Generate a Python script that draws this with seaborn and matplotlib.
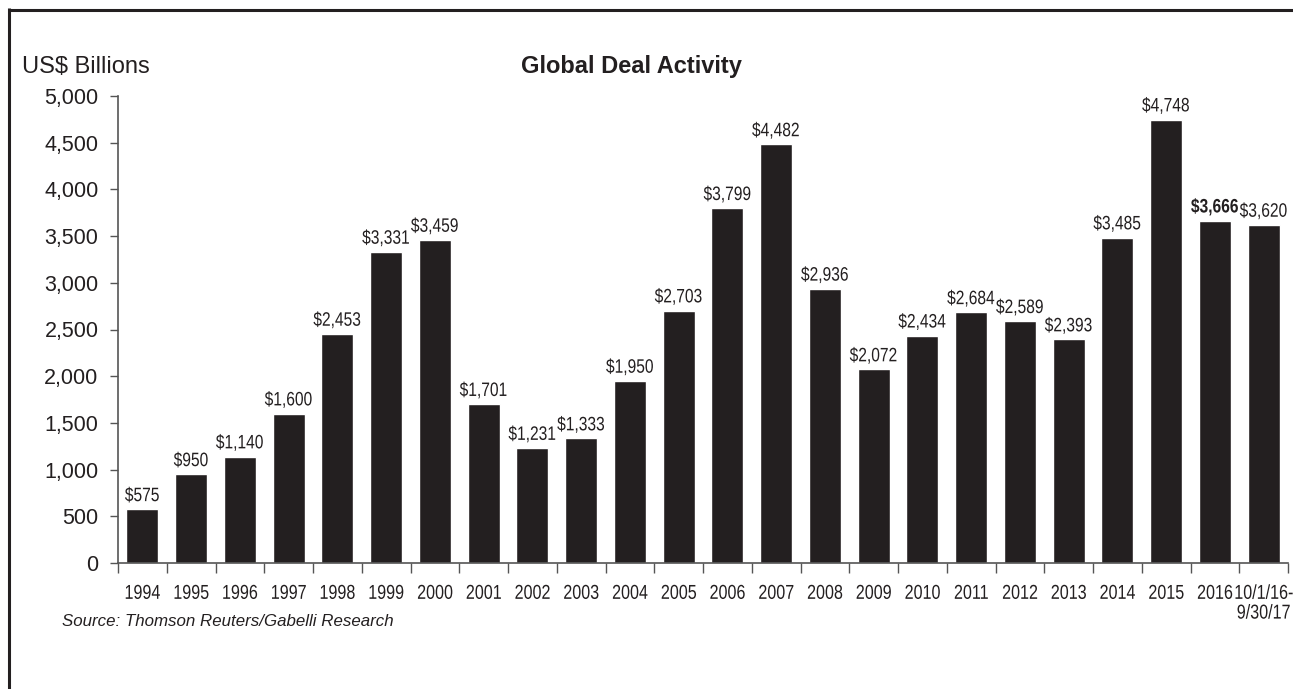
import numpy as np
import pandas as pd
import matplotlib
matplotlib.use('Agg')
import matplotlib.pyplot as plt
import matplotlib.patheffects as pe
from matplotlib.lines import Line2D
from matplotlib.transforms import Affine2D
import seaborn as sb

# Data
periods = ['1994', '1995', '1996', '1997', '1998', '1999', '2000', '2001', '2002', '2003',
           '2004', '2005', '2006', '2007', '2008', '2009', '2010', '2011', '2012', '2013',
           '2014', '2015', '2016', '10/1/16-\n9/30/17']
deal_value = [575, 950, 1140, 1600, 2453, 3331, 3459, 1701, 1231, 1333,
              1950, 2703, 3799, 4482, 2936, 2072, 2434, 2684, 2589, 2393,
              3485, 4748, 3666, 3620]
y_ticks = [0, 500, 1000, 1500, 2000, 2500, 3000, 3500, 4000, 4500, 5000]

INK = '#231f20'


# squeezes text horizontally around each line's centre (Arial Narrow look)
class Squeeze(pe.AbstractPathEffect):
    def __init__(self, sx=0.8):
        super().__init__()
        self.sx = sx

    def draw_path(self, renderer, gc, tpath, affine, rgbFace=None):
        ext = tpath.get_extents()
        cx = (ext.x0 + ext.x1) / 2
        t = Affine2D().translate(-cx, 0).scale(self.sx, 1).translate(cx, 0) + affine
        renderer.draw_path(gc, tpath, t, rgbFace)


sb.set_style('white')
plt.rcParams['font.family'] = ['Liberation Sans', 'DejaVu Sans']
narrow = [Squeeze(0.8)]

df = pd.DataFrame({'period': periods, 'value': deal_value})

fig = plt.figure(figsize=(12.93, 6.89), dpi=100)
ax = fig.add_axes([118 / 1293, 1 - 563 / 689, 1170 / 1293, 467 / 689])

sb.barplot(data=df, x='period', y='value', color=INK, saturation=1,
           width=0.66, ax=ax)

# Value labels on top of bars
labels = ['${:,}'.format(v) for v in deal_value]
texts = ax.bar_label(ax.containers[0], labels=labels, padding=3,
                     fontsize=14, color=INK)
for t in texts:
    t.set_path_effects(narrow)
texts[periods.index('2016')].set_fontweight('bold')

ax.set_xlim(-0.5, len(periods) - 0.5)
ax.set_ylim(0, 5000)
ax.set_yticks(y_ticks)
ax.set_yticklabels(['{:,}'.format(t) for t in y_ticks], fontsize=15.5, color=INK)
ax.tick_params(axis='y', direction='out', length=6, width=1, color='#555555', pad=8, left=True)

# Category labels without ticks, ticks drawn between categories
ax.set_xticks(range(len(periods)))
ax.set_xticklabels(periods, fontsize=14.5, color=INK, linespacing=1.05, va='top')
for t in ax.get_xticklabels():
    t.set_path_effects(narrow)
ax.tick_params(axis='x', which='major', length=0, pad=15)
ax.set_xticks(np.arange(len(periods) + 1) - 0.5, minor=True)
ax.tick_params(axis='x', which='minor', direction='out', length=7, width=1,
               color='#555555', bottom=True)

ax.set_xlabel('')
ax.set_ylabel('')
for side in ['top', 'right']:
    ax.spines[side].set_visible(False)
for side in ['left', 'bottom']:
    ax.spines[side].set_color('#555555')
    ax.spines[side].set_linewidth(1.2)

# Titles and notes
fig.text(22 / 1293, 1 - 67 / 689, 'US$ Billions', fontsize=17, color=INK,
         ha='left', va='center')
fig.text(631 / 1293, 1 - 67 / 689, 'Global Deal Activity', fontsize=17,
         fontweight='bold', color=INK, ha='center', va='center')
fig.text(62 / 1293, 1 - 622 / 689, 'Source: Thomson Reuters/Gabelli Research',
         fontsize=12.2, style='italic', color=INK, ha='left', va='center')

# Outer frame lines (top and left)
fig.add_artist(Line2D([8 / 1293, 1], [1 - 9.5 / 689, 1 - 9.5 / 689], color=INK,
                      linewidth=2.2, solid_capstyle='butt', transform=fig.transFigure))
fig.add_artist(Line2D([9 / 1293, 9 / 1293], [0, 1 - 8 / 689], color=INK,
                      linewidth=2.2, solid_capstyle='butt', transform=fig.transFigure))

fig.savefig('out.png', dpi=100)
